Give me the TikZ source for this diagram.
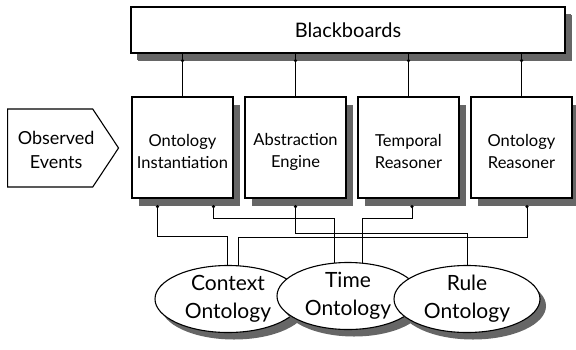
\documentclass[tikz,border=0pt]{standalone}
\usepackage{fontspec}
\setmainfont{Lato}
\usetikzlibrary{calc,positioning,shadows,shapes.geometric,shapes.symbols,backgrounds}

\tikzset{
	box/.style={draw,line width=1.1pt,fill=white,minimum width=101pt,minimum height=101pt,
		drop shadow={shadow xshift=7pt,shadow yshift=-8pt,fill=black!60,opacity=1}},
	boxtext/.style={align=center,font=\fontsize{16.5}{22}\selectfont,yshift=-4pt},
	ont/.style={draw,line width=1.1pt,fill=white,ellipse,minimum width=146pt,minimum height=67pt,inner sep=0pt,align=center,
		font=\fontsize{21}{28}\selectfont,
		drop shadow={shadow xshift=6pt,shadow yshift=-7pt,fill=black!60,opacity=1}},
	wire/.style={line width=0.7pt},
}

\begin{document}
\begin{tikzpicture}[x=1pt,y=-1pt]
	\useasboundingbox (0,0) rectangle (576,349);
	\node[box,minimum width=434pt,minimum height=46pt,drop shadow={shadow xshift=6pt,shadow yshift=-7pt,fill=black!60,opacity=1},
		font=\fontsize{20}{24}\selectfont] (bb) at (348,30) {Blackboards};
	\node[box,label={[boxtext]center:{Ontology\\Instantiation}}] (oi) at (182.5,147.5) {};
	\node[box,label={[boxtext]center:{Abstraction\\Engine}}] (ae) at (295.5,147.5) {};
	\node[box,label={[boxtext]center:{Temporal\\Reasoner}}] (tr) at (408.5,147.5) {};
	\node[box,label={[boxtext]center:{Ontology\\Reasoner}}] (orr) at (521.5,147.5) {};
	\node[draw,line width=1.1pt,signal,signal to=east,signal pointer angle=113,minimum width=111pt,minimum height=78pt,
		anchor=west,label={[boxtext,font=\fontsize{18}{24}\selectfont,xshift=6pt,yshift=2pt]center:{Observed\\Events}}] (oe) at (7,148) {};
	\node[ont] (ctx) at (228,299) {Context\\Ontology};
	\node[ont,minimum width=142pt] (tim) at (348,296) {Time\\Ontology};
	\node[ont] (rul) at (467,299) {Rule\\Ontology};
	\foreach \b in {oi,ae,tr,orr}{
		\draw[wire] (\b.north) -- (\b.north |- bb.south);
		\fill ($(\b.north |- bb.south)+(0,7)$) circle (1.8pt);
	}
	\coordinate (oi1) at ($(oi.south)+(-25,8)$);
	\coordinate (oi2) at ($(oi.south)+(31,8)$);
	\coordinate (ae1) at ($(ae.south)+(0,8)$);
	\coordinate (tr1) at ($(tr.south)+(3.5,8)$);
	\coordinate (orr1) at ($(orr.south)+(5.5,8)$);
	\begin{scope}[on background layer]
		\draw[wire] (oi1) -- ++(0,30) -| ($(ctx.center)+(-1,0)$);
		\draw[wire] (oi2) -- ++(0,12) -| ($(tim.center)+(-14,0)$);
		\draw[wire] (ae1) -- ++(0,27) -| (rul.center);
		\draw[wire] (tr1) -- ++(0,12) -| ($(tim.center)+(14,0)$);
		\draw[wire] (orr1) -- ++(0,31) -| ($(ctx.center)+(10,0)$);
	\end{scope}
	\foreach \p in {oi1,oi2,ae1,tr1,orr1}
		\fill (\p) circle (1.8pt);
\end{tikzpicture}
\end{document}
